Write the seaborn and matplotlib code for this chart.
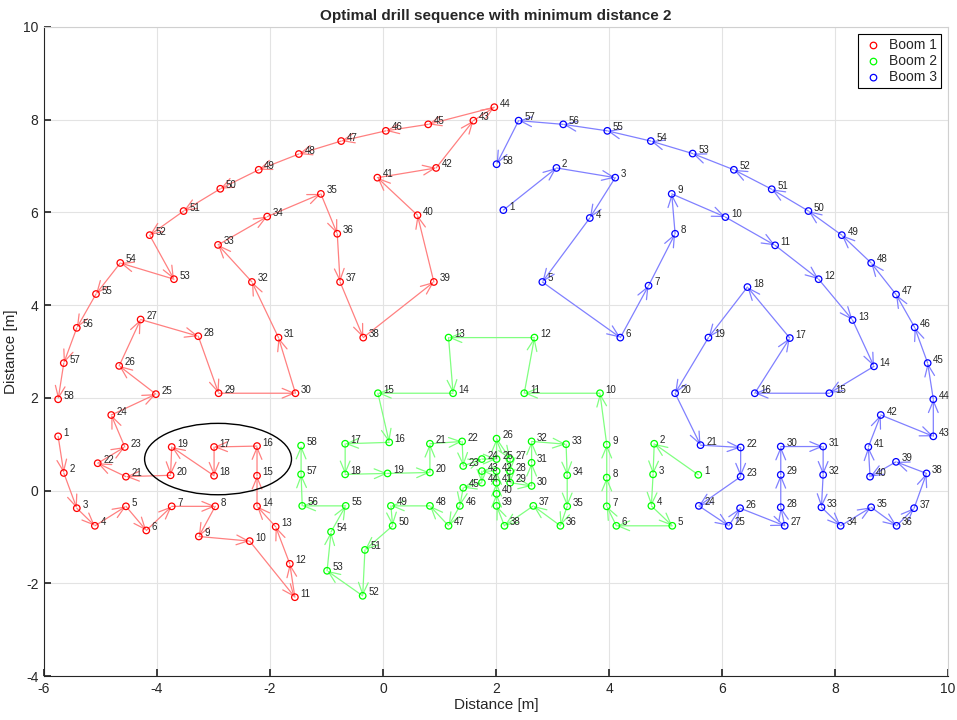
import matplotlib
matplotlib.use("Agg")
import matplotlib.pyplot as plt
from matplotlib.patches import Ellipse
import seaborn as sns
import pandas as pd

# Drill hole positions [m], in drilling order, for each boom
boom1_x = [-5.75, -5.65, -5.42, -5.10, -4.55, -4.19, -3.74, -2.97, -3.26, -2.36,
           -1.56, -1.65, -1.90, -2.23, -2.23, -2.23, -2.99, -2.99, -3.74, -3.76,
           -4.55, -5.05, -4.57, -4.81, -4.02, -4.67, -4.29, -3.27, -2.91, -1.55,
           -1.85, -2.32, -2.92, -2.05, -1.10, -0.81, -0.76, -0.35, 0.90, 0.61,
           -0.10, 0.94, 1.60, 1.97, 0.80, 0.05, -0.74, -1.49, -2.20, -2.88,
           -3.53, -4.13, -3.70, -4.65, -5.08, -5.42, -5.65, -5.75]
boom1_y = [1.17, 0.38, -0.38, -0.76, -0.34, -0.86, -0.34, -0.34, -0.99, -1.09,
           -2.30, -1.58, -0.78, -0.34, 0.32, 0.96, 0.94, 0.32, 0.94, 0.33,
           0.30, 0.59, 0.94, 1.63, 2.08, 2.69, 3.69, 3.33, 2.10, 2.10,
           3.30, 4.50, 5.30, 5.91, 6.40, 5.54, 4.50, 3.30, 4.50, 5.94,
           6.75, 6.96, 7.98, 8.27, 7.90, 7.76, 7.54, 7.26, 6.92, 6.51,
           6.03, 5.51, 4.56, 4.91, 4.24, 3.51, 2.75, 1.97]

boom2_x = [5.58, 4.80, 4.78, 4.75, 5.12, 4.13, 3.96, 3.96, 3.96, 3.84,
           2.50, 2.68, 1.16, 1.24, -0.09, 0.11, -0.67, -0.67, 0.08, 0.83,
           0.83, 1.40, 1.42, 1.75, 2.01, 2.01, 2.25, 2.25, 2.25, 2.63,
           2.63, 2.63, 3.24, 3.26, 3.26, 3.14, 2.66, 2.15, 2.01, 2.01,
           2.01, 2.01, 1.75, 1.75, 1.42, 1.36, 1.16, 0.83, 0.14, 0.17,
           -0.32, -0.36, -0.99, -0.92, -0.66, -1.43, -1.45, -1.45]
boom2_y = [0.34, 1.01, 0.35, -0.33, -0.76, -0.76, -0.34, 0.28, 0.99, 2.10,
           2.10, 3.30, 3.30, 2.10, 2.10, 1.04, 1.01, 0.35, 0.37, 0.39,
           1.01, 1.06, 0.53, 0.68, 0.68, 1.12, 0.68, 0.42, 0.17, 0.10,
           0.60, 1.06, 1.00, 0.33, -0.34, -0.76, -0.33, -0.76, -0.33, -0.07,
           0.17, 0.42, 0.42, 0.17, 0.06, -0.33, -0.76, -0.33, -0.33, -0.76,
           -1.28, -2.27, -1.73, -0.89, -0.33, -0.33, 0.35, 0.97]

boom3_x = [2.13, 3.07, 4.11, 3.66, 2.82, 4.20, 4.70, 5.17, 5.11, 6.06,
           6.94, 7.71, 8.31, 8.69, 7.90, 6.58, 7.20, 6.45, 5.76, 5.17,
           5.62, 6.33, 6.33, 5.59, 6.12, 6.32, 7.11, 7.04, 7.04, 7.04,
           7.79, 7.79, 7.76, 8.10, 8.64, 9.09, 9.40, 9.62, 9.08, 8.62,
           8.59, 8.81, 9.74, 9.74, 9.64, 9.41, 9.08, 8.64, 8.12, 7.53,
           6.88, 6.21, 5.48, 4.74, 3.97, 3.19, 2.40, 2.01]
boom3_y = [6.05, 6.96, 6.75, 5.88, 4.50, 3.30, 4.42, 5.54, 6.40, 5.90,
           5.29, 4.56, 3.68, 2.68, 2.10, 2.10, 3.29, 4.39, 3.30, 2.10,
           0.98, 0.93, 0.30, -0.33, -0.76, -0.38, -0.76, -0.36, 0.34, 0.95,
           0.95, 0.34, -0.36, -0.76, -0.36, -0.76, -0.38, 0.37, 0.62, 0.30,
           0.94, 1.63, 1.17, 1.97, 2.75, 3.52, 4.23, 4.91, 5.51, 6.03,
           6.50, 6.92, 7.27, 7.54, 7.76, 7.90, 7.98, 7.04]

boom_names = ["Boom 1", "Boom 2", "Boom 3"]
marker_colors = ["#ff0000", "#00ff00", "#0000ff"]
path_colors = ["#ff8080", "#80ff80", "#8080ff"]

booms = [(boom1_x, boom1_y), (boom2_x, boom2_y), (boom3_x, boom3_y)]

sns.set_theme(style="whitegrid")
plt.rcParams["font.family"] = ["Liberation Sans", "DejaVu Sans"]
plt.rcParams["axes.unicode_minus"] = False

fig = plt.figure(figsize=(9.57, 7.2), dpi=100)
ax = fig.add_axes([0.046, 0.0611, 0.9446, 0.9014])

for name, (xs, ys), mc, pc in zip(boom_names, booms, marker_colors, path_colors):
    df = pd.DataFrame({"x": xs, "y": ys})
    # drilling path: arrow from each hole to the next
    for i in range(len(df) - 1):
        ax.annotate("", xy=(df.x[i + 1], df.y[i + 1]), xytext=(df.x[i], df.y[i]),
                    arrowprops=dict(arrowstyle="->,head_length=0.6,head_width=0.25",
                                    color=pc, lw=0.9, shrinkA=0, shrinkB=0,
                                    mutation_scale=14),
                    zorder=2)
    sns.scatterplot(data=df, x="x", y="y", ax=ax, marker="o", s=22,
                    facecolors="none", edgecolor=mc, linewidth=0.9,
                    label=name, zorder=3)
    for k, (px, py) in enumerate(zip(xs, ys), start=1):
        ax.annotate(str(k), (px, py), xytext=(4, 2.5), textcoords="offset points",
                    fontsize=7, color="#262626", ha="left", va="center", zorder=4)

# highlighted region around holes 17-20 of boom 1
ax.add_patch(Ellipse((-2.92, 0.68), 2.60, 1.54, fill=False, edgecolor="black",
                     lw=1.0, zorder=5))

ax.set_xlim(-6, 10)
ax.set_ylim(-4, 10)
ax.set_xticks(range(-6, 11, 2))
ax.set_yticks(range(-4, 11, 2))
ax.set_xlabel("Distance [m]", fontsize=11, color="#262626", labelpad=2)
ax.set_ylabel("Distance [m]", fontsize=11, color="#262626", labelpad=4)
ax.set_title("Optimal drill sequence with minimum distance 2", fontsize=11,
             fontweight="bold", pad=5)
ax.set_facecolor("white")
ax.grid(True, color="#e3e3e3", lw=0.8)
ax.tick_params(axis="both", direction="in", length=5, labelsize=10,
               colors="#262626", left=True, bottom=True, pad=4)
for s in ax.spines.values():
    s.set_visible(True)
    s.set_color("#262626")
    s.set_linewidth(0.8)
ax.spines["top"].set_color("#d0d0d0")
ax.spines["right"].set_color("#d0d0d0")

leg = ax.legend(loc="upper right", fontsize=10, frameon=True, fancybox=False,
                borderaxespad=0.5, handletextpad=0.3, borderpad=0.3,
                labelspacing=0.15, handlelength=1.6)
leg.get_frame().set_edgecolor("black")
leg.get_frame().set_linewidth(0.8)
leg.get_frame().set_alpha(1)

fig.savefig("out.png", dpi=100)
